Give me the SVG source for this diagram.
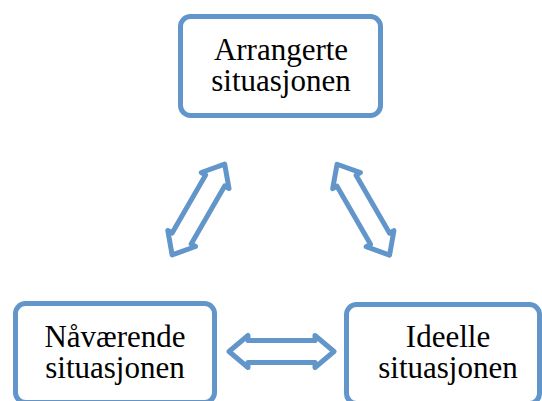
<svg xmlns="http://www.w3.org/2000/svg" width="542" height="401" viewBox="0 0 542 401">
<defs>
<style>
.box{fill:#ffffff;stroke:#6296CA;stroke-width:5}
.arr{fill:#ffffff;stroke:#6296CA;stroke-width:5;stroke-linejoin:round}
.lbl{font-family:"Liberation Serif","Times New Roman",serif;font-size:31px;fill:#000000;text-anchor:middle}
</style>
<path id="dbl" d="M -52.5,0 L -33.5,-16 L -33.5,-11 L 33.5,-11 L 33.5,-16 L 52.5,0 L 33.5,16 L 33.5,11 L -33.5,11 L -33.5,16 Z"/>
</defs>
<rect width="542" height="401" fill="#ffffff"/>
<g id="connectors">
<use href="#dbl" class="arr" transform="translate(198.4,209.5) rotate(-60)"/>
<use href="#dbl" class="arr" transform="translate(363.3,209.7) rotate(60)"/>
<use href="#dbl" class="arr" transform="translate(281.5,351.5)"/>
</g>
<g id="node-arrangerte">
<rect class="box" x="180.5" y="16.5" width="200" height="99" rx="10"/>
<text class="lbl" x="281" y="60">Arrangerte</text>
<text class="lbl" x="281" y="91">situasjonen</text>
</g>
<g id="node-navaerende">
<rect class="box" x="15.5" y="303.5" width="199" height="99" rx="10"/>
<text class="lbl" x="115" y="347">Nåværende</text>
<text class="lbl" x="115" y="378">situasjonen</text>
</g>
<g id="node-ideelle">
<rect class="box" x="346.5" y="304.5" width="193" height="99" rx="10"/>
<text class="lbl" x="448" y="347">Ideelle</text>
<text class="lbl" x="448" y="378">situasjonen</text>
</g>
</svg>
